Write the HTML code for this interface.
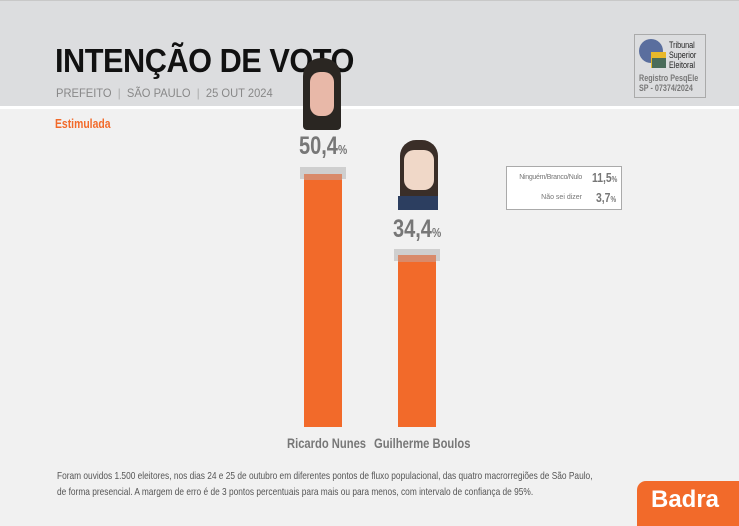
<!DOCTYPE html>
<html><head><meta charset="utf-8"><style>
body{margin:0;width:739px;height:522px;overflow:hidden;background:#f1f1f1;font-family:"Liberation Sans",sans-serif;position:relative}
.a{position:absolute;white-space:nowrap}
.n{transform:scaleX(0.8);transform-origin:0 0}
</style></head><body>
<div class="a" style="left:0;top:0;width:739px;height:106px;background:#dcdddf;border-top:1px solid #c8c8c8"></div>
<div class="a" style="left:0;top:106px;width:739px;height:3px;background:#fff"></div>
<div class="a" style="left:55px;top:42px;font-size:33px;font-weight:bold;color:#111;letter-spacing:-0.5px;transform:scaleX(0.93);transform-origin:0 0">INTENÇÃO DE VOTO</div>
<div class="a" style="left:56px;top:86px;font-size:12px;color:#888;transform:scaleX(0.93);transform-origin:0 0">PREFEITO <span style="color:#aaa">&nbsp;|&nbsp;</span> SÃO PAULO <span style="color:#aaa">&nbsp;|&nbsp;</span> 25 OUT 2024</div>
<div class="a" style="left:634px;top:34px;width:70px;height:62px;border:1px solid #aaa;background:#dcdddf"></div>
<div class="a" style="left:639px;top:39px;width:24px;height:24px;border-radius:50%;background:#5a6e9e"></div>
<div class="a" style="left:651px;top:52px;width:15px;height:16px;background:#e8b82a"></div>
<div class="a" style="left:652px;top:58px;width:14px;height:10px;background:#4a6c5a"></div>
<div class="a n" style="left:669px;top:40px;font-size:9px;line-height:10px;color:#222">Tribunal<br>Superior<br>Eleitoral</div>
<div class="a n" style="left:639px;top:73px;font-size:9px;line-height:10px;color:#777;font-weight:bold">Registro PesqEle<br>SP - 07374/2024</div>
<div class="a n" style="left:55px;top:116px;font-size:13px;font-weight:bold;color:#f26a2a">Estimulada</div>
<div class="a" style="left:303px;top:58px;width:38px;height:72px;background:#2a2622;border-radius:18px 18px 4px 4px"></div>
<div class="a" style="left:310px;top:72px;width:24px;height:44px;background:#e8b8a8;border-radius:10px"></div>
<div class="a" style="left:400px;top:140px;width:38px;height:70px;background:#3a2e28;border-radius:16px 16px 4px 4px"></div>
<div class="a" style="left:404px;top:150px;width:30px;height:40px;background:#f0d8c8;border-radius:10px"></div>
<div class="a" style="left:398px;top:196px;width:40px;height:14px;background:#2c3e60"></div>
<div class="a n" style="left:299px;top:132px;font-size:25px;font-weight:bold;color:#777">50,4<span style="font-size:13px">%</span></div>
<div class="a n" style="left:393px;top:215px;font-size:25px;font-weight:bold;color:#777">34,4<span style="font-size:13px">%</span></div>
<div class="a" style="left:300px;top:167px;width:46px;height:12px;background:#cfcfcf"></div>
<div class="a" style="left:304px;top:174px;width:38px;height:253px;background:#f26a2a"></div>
<div class="a" style="left:304px;top:174px;width:38px;height:6px;background:#d98a6a"></div>
<div class="a" style="left:394px;top:249px;width:46px;height:12px;background:#cfcfcf"></div>
<div class="a" style="left:398px;top:255px;width:38px;height:172px;background:#f26a2a"></div>
<div class="a" style="left:398px;top:255px;width:38px;height:7px;background:#d98a6a"></div>
<div class="a n" style="left:287px;top:435px;font-size:14px;font-weight:bold;color:#777">Ricardo Nunes</div>
<div class="a n" style="left:374px;top:435px;font-size:14px;font-weight:bold;color:#777">Guilherme Boulos</div>
<div class="a" style="left:506px;top:166px;width:114px;height:42px;border:1px solid #aaa;background:#fff"></div>
<div class="a" style="left:508px;top:174px;width:74px;text-align:right;font-size:7px;color:#777;letter-spacing:-0.3px">Ninguém/Branco/Nulo</div>
<div class="a" style="left:508px;top:194px;width:74px;text-align:right;font-size:7px;color:#777">Não sei dizer</div>
<div class="a n" style="left:592px;top:170px;font-size:13px;font-weight:bold;color:#777">11,5<span style="font-size:8px">%</span></div>
<div class="a n" style="left:596px;top:190px;font-size:13px;font-weight:bold;color:#777">3,7<span style="font-size:8px">%</span></div>
<div class="a" style="left:57px;top:469px;font-size:10.3px;line-height:16px;color:#555;transform:scaleX(0.81);transform-origin:0 0">Foram ouvidos 1.500 eleitores, nos dias 24 e 25 de outubro em diferentes pontos de fluxo populacional, das quatro macrorregiões de São Paulo,<br>de forma presencial. A margem de erro é de 3 pontos percentuais para mais ou para menos, com intervalo de confiança de 95%.</div>
<div class="a" style="left:637px;top:481px;width:110px;height:45px;background:#f26a2a;border-radius:9px 0 0 0"></div>
<div class="a" style="left:651px;top:486px;font-size:24px;font-weight:bold;color:#fff">Badra</div>
</body></html>
